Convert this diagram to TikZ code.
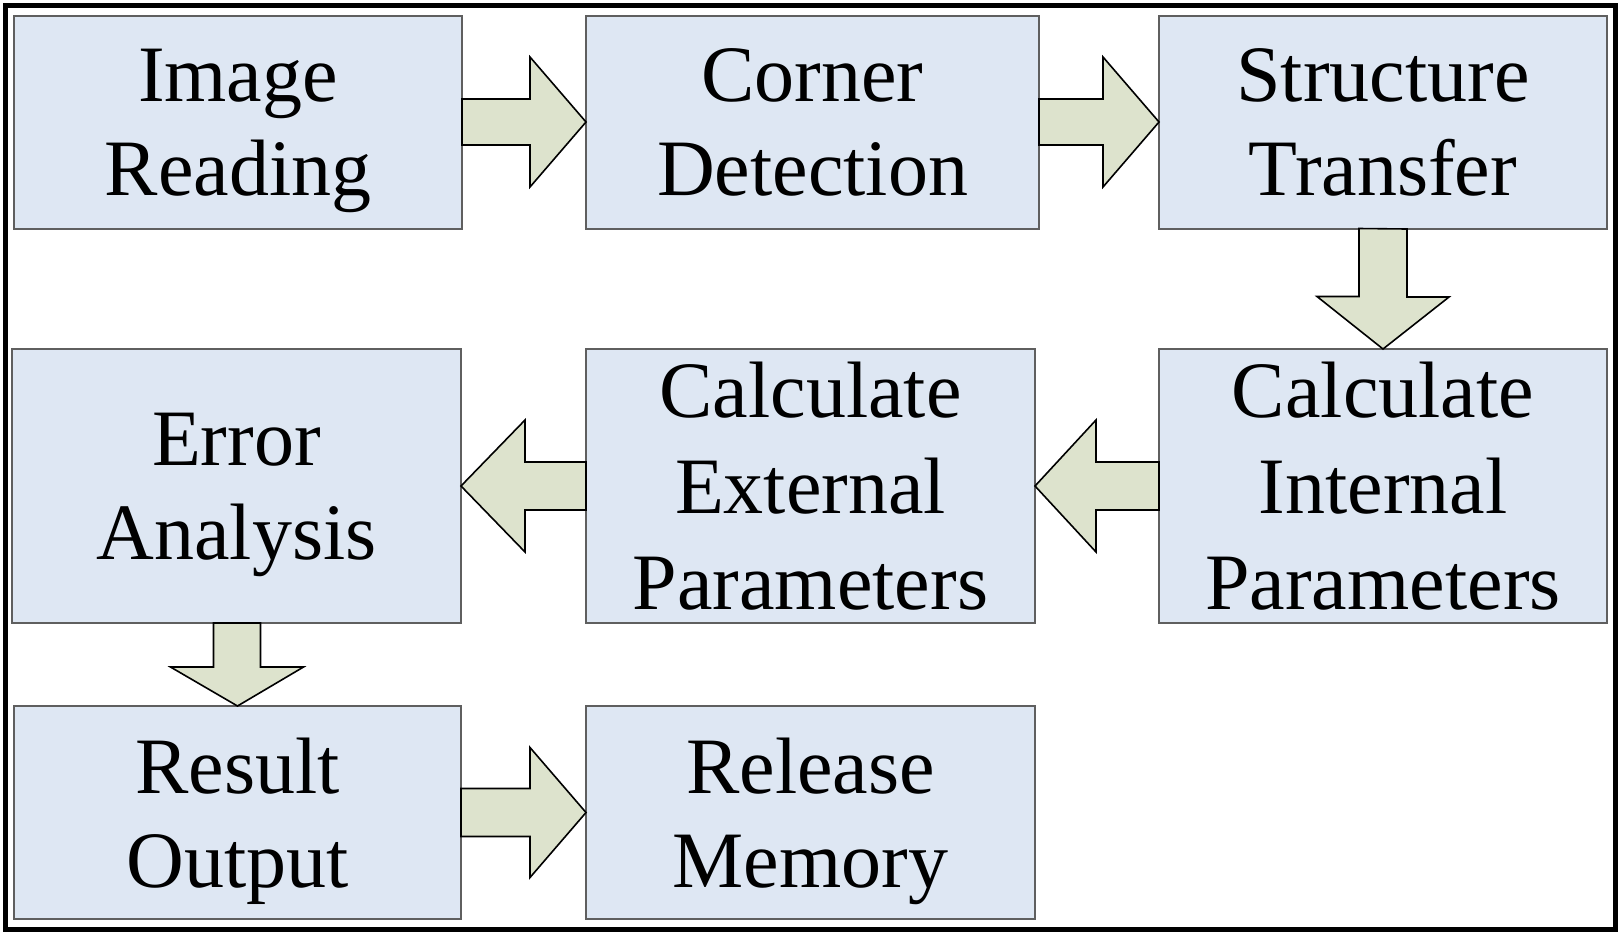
\documentclass[tikz,border=0pt]{standalone}
\usepackage{fontspec}
\setmainfont{Liberation Serif}
\usetikzlibrary{calc}
\definecolor{boxfill}{RGB}{222,231,243}
\definecolor{boxline}{RGB}{95,95,95}
\definecolor{arrfill}{RGB}{221,227,205}
\tikzset{
  stepbox/.style={draw=boxline, line width=2pt, fill=boxfill, rectangle, outer sep=0pt, inner sep=0pt,
    minimum width=#1, align=center, text depth=0pt, font=\fontsize{80}{94}\selectfont},
  blockarr/.style={fill=arrfill, draw=black, line width=1.6pt, line join=miter},
}
\begin{document}
\begin{tikzpicture}[x=1pt,y=-1pt]
\useasboundingbox (0,0) rectangle (1621,935);
\fill[white] (0,0) rectangle (1621,935);
% row 1
\node[stepbox=448pt, minimum height=213pt] (b1) at (238,122) {Image\\Reading};
\node[stepbox=453pt, minimum height=213pt] (b2) at (812.5,122) {Corner\\Detection};
\node[stepbox=448pt, minimum height=213pt] (b3) at (1383,122) {Structure\\Transfer};
% row 2
\node[stepbox=449pt, minimum height=274pt] (b4) at (236.5,486) {Error\\Analysis};
\node[stepbox=449pt, minimum height=274pt, font=\fontsize{80}{96}\selectfont] (b5) at (810.5,486) {Calculate\\External\\Parameters};
\node[stepbox=448pt, minimum height=274pt, font=\fontsize{80}{96}\selectfont] (b6) at (1383,486) {Calculate\\Internal\\Parameters};
% row 3
\node[stepbox=447pt, minimum height=213pt] (b7) at (237.5,812.5) {Result\\Output};
\node[stepbox=449pt, minimum height=213pt] (b8) at (810.5,812.5) {Release\\Memory};
% arrows
\draw[blockarr] (b1.east) ++(0,-23) -- ++(68,0) -- ++(0,-42) -- (b2.west) -- ++(-56,65) -- ++(0,-42) -- ++(-68,0) -- cycle;
\draw[blockarr] (b2.east) ++(0,-23) -- ++(64,0) -- ++(0,-42) -- (b3.west) -- ++(-56,65) -- ++(0,-42) -- ++(-64,0) -- cycle;
\draw[blockarr] (b3.south) ++(-24,0) -- ++(0,68) -- ++(-42,0) -- (b6.north) -- ++(66,-52) -- ++(-42,0) -- ++(0,-68) -- cycle;
\draw[blockarr] (b6.west) ++(0,-24) -- ++(-63,0) -- ++(0,-42) -- (b5.east) -- ++(61,66) -- ++(0,-42) -- ++(63,0) -- cycle;
\draw[blockarr] (b5.west) ++(0,-24) -- ++(-61,0) -- ++(0,-42) -- (b4.east) -- ++(64,66) -- ++(0,-42) -- ++(61,0) -- cycle;
\draw[blockarr] (b4.south) ++(-23,0) -- ++(0,44) -- ++(-43,0) -- (b7.north) -- ++(66,-39) -- ++(-43,0) -- ++(0,-44) -- cycle;
\draw[blockarr] (b7.east) ++(0,-24) -- ++(69,0) -- ++(0,-41) -- (b8.west) -- ++(-56,65) -- ++(0,-41) -- ++(-69,0) -- cycle;
% outer frame
\draw[line width=5pt] (5.5,5.5) rectangle (1615.5,929.5);
\end{tikzpicture}
\end{document}
